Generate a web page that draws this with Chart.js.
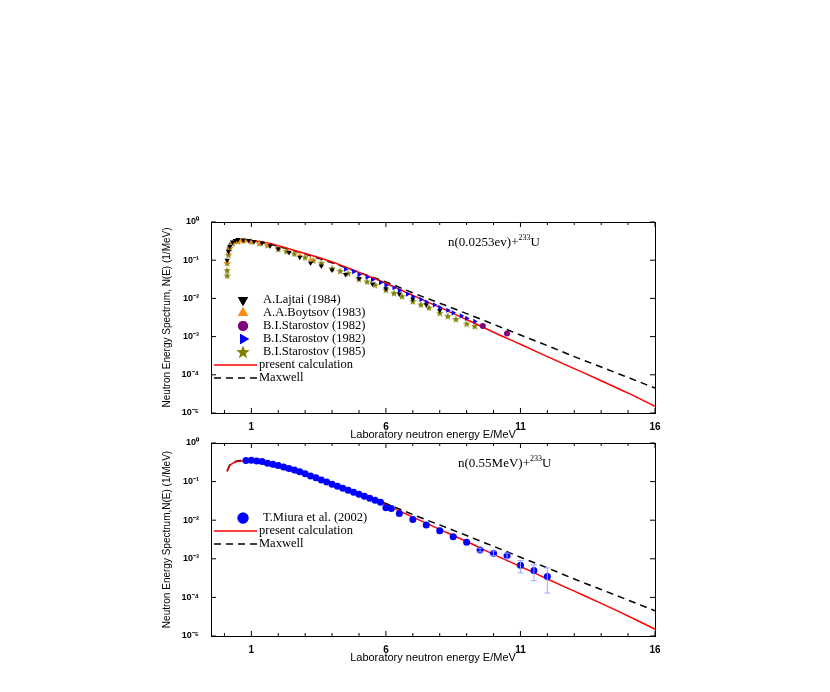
<!DOCTYPE html>
<html><head><meta charset="utf-8">
<script src="https://cdn.jsdelivr.net/npm/chart.js@4"></script>
<style>
body{margin:0;background:#fff;width:830px;height:692px;position:relative;overflow:hidden}
.box{position:absolute;left:161px;width:510px}
</style></head>
<body>
<div class="box" style="top:212px;height:233px"><canvas id="top"></canvas></div>
<div class="box" style="top:433px;height:235px"><canvas id="bot"></canvas></div>
<script>
// model curves
const curveX = [0.1,0.2,0.4,0.7,1,1.5,2,3,4,5,6,7,8,9,10,11,12,13,14,15,16];
const calcY  = [0.18,0.26,0.32,0.34,0.33,0.29,0.24,0.15,0.09,0.048,0.025,0.012,0.0058,0.0028,0.0013,6.3e-4,3.0e-4,1.45e-4,7e-5,3.3e-5,1.5e-5];
const maxwY  = [0.19,0.27,0.33,0.35,0.33,0.28,0.23,0.145,0.085,0.048,0.027,0.014,0.0075,0.004,0.0021,0.0011,5.8e-4,3.0e-4,1.6e-4,8.5e-5,4.5e-5];

// top panel data
const lajX = [0.1,0.15,0.2,0.3,0.4,0.5,0.7,0.9,1.1,1.4,1.7,2,2.4,2.8,3.2,3.6,4,4.5,5,5.5,6,6.5,7,7.5,8];
const lajY = [0.1,0.17,0.23,0.3,0.33,0.35,0.34,0.33,0.31,0.28,0.24,0.2,0.16,0.12,0.085,0.07,0.055,0.042,0.033,0.024,0.018,0.013,0.0095,0.0068,0.0048];
const boyX = [0.1,0.15,0.2,0.3,0.4,0.6,0.8,1,1.3,1.6,2,2.4,2.8,3.2];
const boyY = [0.09,0.16,0.22,0.28,0.31,0.32,0.32,0.31,0.28,0.25,0.21,0.17,0.135,0.105];
const sta82X = [9.6,10.5];
const sta82Y = [0.0019,0.0012];
const stbX = [4.5,4.8,5,5.3,5.5,5.8,6,6.3,6.5,6.8,7,7.3,7.5,7.8,8,8.3,8.5,8.8,9,9.3];
const stbY = [0.058,0.05,0.042,0.036,0.031,0.026,0.022,0.019,0.016,0.013,0.011,0.0094,0.008,0.0068,0.0058,0.0049,0.0042,0.0035,0.003,0.0025];
const st85X = [0.1,0.1,0.1,0.15,0.2,0.3,0.5,0.7,1,1.3,1.6,2,2.3,2.6,3,3.3,3.6,4,4.3,4.6,5,5.3,5.6,6,6.3,6.6,7,7.3,7.6,8,8.3,8.6,9,9.3];
const st85Y = [0.04,0.055,0.085,0.14,0.21,0.28,0.32,0.33,0.31,0.28,0.25,0.2,0.175,0.15,0.12,0.1,0.085,0.062,0.053,0.046,0.033,0.028,0.023,0.017,0.014,0.0115,0.0085,0.007,0.0058,0.0042,0.0035,0.0029,0.0022,0.0019];

// bottom panel data
const miuX = [0.8,1,1.2,1.4,1.6,1.8,2,2.2,2.4,2.6,2.8,3,3.2,3.4,3.6,3.8,4,4.2,4.4,4.6,4.8,5,5.2,5.4,5.6,5.8,6,6.2,6.5,7,7.5,8,8.5,9,9.5,10,10.5,11,11.5,12];
const miuY = [0.35,0.36,0.34,0.33,0.3,0.28,0.26,0.24,0.22,0.2,0.18,0.16,0.14,0.125,0.11,0.098,0.085,0.076,0.067,0.06,0.053,0.047,0.042,0.037,0.033,0.029,0.021,0.02,0.015,0.0105,0.0075,0.0053,0.0037,0.0027,0.0017,0.0014,0.0012,6.8e-4,5e-4,3.5e-4];
const miuErr = {9.5:[0.0015,0.0019],10:[0.0012,0.0016],10.5:[0.0010,0.0014],11:[4.3e-4,9e-4],11.5:[2.7e-4,7e-4],12:[1.3e-4,5.8e-4]};

const xTicks = [1,6,11,16];
const sup = {'0':'⁰','1':'¹','2':'²','3':'³','4':'⁴','5':'⁵','-':'⁻'};

function pts(xs, ys){ return xs.map((x,i)=>({x:x,y:ys[i]})); }

// filled star marker
function makeStar(size){
  const cv = document.createElement('canvas');
  cv.width = size; cv.height = size;
  const c = cv.getContext('2d'), h = size/2;
  c.fillStyle = '#808000';
  c.beginPath();
  for (let i=0;i<10;i++){
    const r = i%2 ? h*0.42 : h, a = -Math.PI/2 + i*Math.PI/5;
    c.lineTo(h+r*Math.cos(a), h+0.5+r*Math.sin(a));
  }
  c.closePath(); c.fill();
  return cv;
}
const starImg = makeStar(8);
const starBig = makeStar(14);

const serif = '"Liberation Serif", "DejaVu Serif", serif';

const framePlugin = {
  id:'frame',
  afterDraw(chart, args, opts){
    const {ctx, chartArea:a} = chart;
    ctx.save();
    ctx.strokeStyle='#000'; ctx.lineWidth=1;
    ctx.strokeRect(a.left+0.5,a.top+0.5,a.width,a.height);
    const xs = chart.scales.x;
    for (let v=-1; v<=16; v+=1){
      if (v < xs.min) continue;
      const px = xs.getPixelForValue(v), big = (v-1)%5===0;
      ctx.beginPath();
      ctx.moveTo(px,a.bottom); ctx.lineTo(px,a.bottom-(big?5:3));
      ctx.moveTo(px,a.top); ctx.lineTo(px,a.top+(big?5:3));
      ctx.stroke();
    }
    const ys = chart.scales.y;
    for (let e=-5;e<=0;e++){
      const py = ys.getPixelForValue(Math.pow(10,e));
      ctx.beginPath();
      ctx.moveTo(a.left,py); ctx.lineTo(a.left+5,py);
      ctx.moveTo(a.right,py); ctx.lineTo(a.right-5,py);
      ctx.stroke();
    }
    if (opts.err){
      ctx.strokeStyle='#9aa8ff';
      for (const k in opts.err){
        const px = xs.getPixelForValue(+k);
        const y0 = ys.getPixelForValue(opts.err[k][0]), y1 = ys.getPixelForValue(opts.err[k][1]);
        ctx.beginPath();
        ctx.moveTo(px,y0); ctx.lineTo(px,y1);
        ctx.moveTo(px-3,y0); ctx.lineTo(px+3,y0);
        ctx.moveTo(px-3,y1); ctx.lineTo(px+3,y1);
        ctx.stroke();
      }
    }
    // label
    ctx.fillStyle='#000';
    ctx.font = '13px ' + serif;
    ctx.textBaseline='alphabetic';
    const lx = a.left + opts.labelX, ly = a.top + 24;
    ctx.fillText(opts.label, lx, ly);
    let w = ctx.measureText(opts.label).width;
    ctx.font = '8px ' + serif;
    ctx.fillText('233', lx+w, ly-6);
    w += ctx.measureText('233').width;
    ctx.font = '13px ' + serif;
    ctx.fillText('U', lx+w, ly);
    // legend
    ctx.font = '12.5px ' + serif;
    ctx.textBaseline='middle';
    opts.legend.forEach((it,i)=>{
      const y = a.top + opts.legTop + i*opts.legStep;
      const mx = a.left + 32;
      if (it.line){
        ctx.strokeStyle = it.color; ctx.lineWidth = 1.5;
        ctx.setLineDash(it.dash || []);
        ctx.beginPath(); ctx.moveTo(a.left+3,y); ctx.lineTo(a.left+46,y); ctx.stroke();
        ctx.setLineDash([]);
      } else if (it.img){
        ctx.drawImage(starBig, mx-7, y-7);
      } else {
        ctx.fillStyle = it.color;
        Chart.helpers.drawPoint(ctx, {pointStyle:it.style, radius:it.r||6, rotation:it.rot||0, borderWidth:0}, mx, y);
        ctx.fill();
      }
      ctx.fillStyle='#000';
      ctx.fillText(it.text, a.left + (it.line?48:52), y);
    });
    ctx.restore();
  }
};

function makeOpts(extra){
  return {
    responsive:true, maintainAspectRatio:false, animation:false,
    layout:{padding:{top:10,right:16,left:0,bottom:0}},
    plugins:{legend:{display:false}, tooltip:{enabled:false}, frame:extra},
    scales:{
      x:{type:'linear', min:-0.5, max:16,
        afterBuildTicks(s){ s.ticks = xTicks.map(v=>({value:v})); },
        afterFit(s){ s.height = 32; },
        grid:{display:false}, border:{display:false},
        ticks:{color:'#000', font:{family:'"Liberation Sans", Arial', size:10, weight:'bold'}, padding:0},
        title:{display:true, text:'Laboratory neutron energy E/MeV', color:'#000', padding:{top:0,bottom:3},
          font:{family:'"Liberation Sans", Arial', size:11}}
      },
      y:{type:'logarithmic', min:1e-5, max:1,
        afterBuildTicks(s){ s.ticks = [-5,-4,-3,-2,-1,0].map(e=>({value:Math.pow(10,e)})); },
        afterFit(s){ s.width = 50; },
        grid:{display:false}, border:{display:false},
        ticks:{color:'#000', font:{family:'"Liberation Sans", Arial', size:9, weight:'bold'}, padding:4,
          callback(v){ const e = Math.round(Math.log10(v)); return '10' + String(e).split('').map(c=>sup[c]).join(''); }},
        title:{display:true, text:extra.ytitle, color:'#000', padding:0,
          font:{family:'"Liberation Sans Narrow", "Liberation Sans", Arial', size:10}}
      }
    }
  };
}

const lineSets = [
  {type:'line', label:'present calculation', data:pts(curveX,calcY), borderColor:'#ff0000', borderWidth:1.5, pointRadius:0, cubicInterpolationMode:'monotone'},
  {type:'line', label:'Maxwell', data:pts(curveX,maxwY), borderColor:'#000', borderWidth:1.5, borderDash:[7,5], pointRadius:0, cubicInterpolationMode:'monotone'}
];

new Chart(document.getElementById('top'), {
  type:'scatter',
  data:{datasets:[
    {label:'A.Lajtai (1984)', data:pts(lajX,lajY), backgroundColor:'#000', pointStyle:'triangle', rotation:180, pointRadius:3, borderWidth:0},
    {label:'A.A.Boytsov (1983)', data:pts(boyX,boyY), backgroundColor:'#ff8c1a', pointStyle:'triangle', pointRadius:3, borderWidth:0},
    {label:'B.I.Starostov (1982)', data:pts(sta82X,sta82Y), backgroundColor:'#800080', pointStyle:'circle', pointRadius:3, borderWidth:0},
    {label:'B.I.Starostov (1982)', data:pts(stbX,stbY), backgroundColor:'#0000ff', pointStyle:'triangle', rotation:90, pointRadius:3, borderWidth:0},
    {label:'B.I.Starostov (1985)', data:pts(st85X,st85Y), pointStyle:starImg, pointRadius:4},
    ...lineSets.map(d=>Object.assign({}, d))
  ]},
  options:makeOpts({label:'n(0.0253ev)+', labelX:237, ytitle:'Neutron Energy Spectrum, N(E) (1/MeV)',
    legTop:78, legStep:13, legend:[
      {text:'A.Lajtai (1984)', color:'#000', style:'triangle', rot:180},
      {text:'A.A.Boytsov (1983)', color:'#ff8c1a', style:'triangle'},
      {text:'B.I.Starostov (1982)', color:'#800080', style:'circle', r:5},
      {text:'B.I.Starostov (1982)', color:'#0000ff', style:'triangle', rot:90},
      {text:'B.I.Starostov (1985)', img:true},
      {text:'present calculation', line:true, color:'#ff0000'},
      {text:'Maxwell', line:true, color:'#000', dash:[7,5]}
    ]}),
  plugins:[framePlugin]
});

new Chart(document.getElementById('bot'), {
  type:'scatter',
  data:{datasets:[
    {label:'T.Miura et al. (2002)', data:pts(miuX,miuY), backgroundColor:'#0000ff', pointStyle:'circle', pointRadius:3.5, borderWidth:0},
    ...lineSets.map(d=>Object.assign({}, d))
  ]},
  options:makeOpts({label:'n(0.55MeV)+', labelX:247, ytitle:'Neutron Energy Spectrum,N(E) (1/MeV)', err:miuErr,
    legTop:75, legStep:13, legend:[
      {text:'T.Miura et al. (2002)', color:'#0000ff', style:'circle', r:5.5},
      {text:'present calculation', line:true, color:'#ff0000'},
      {text:'Maxwell', line:true, color:'#000', dash:[7,5]}
    ]}),
  plugins:[framePlugin]
});
</script>
</body></html>
